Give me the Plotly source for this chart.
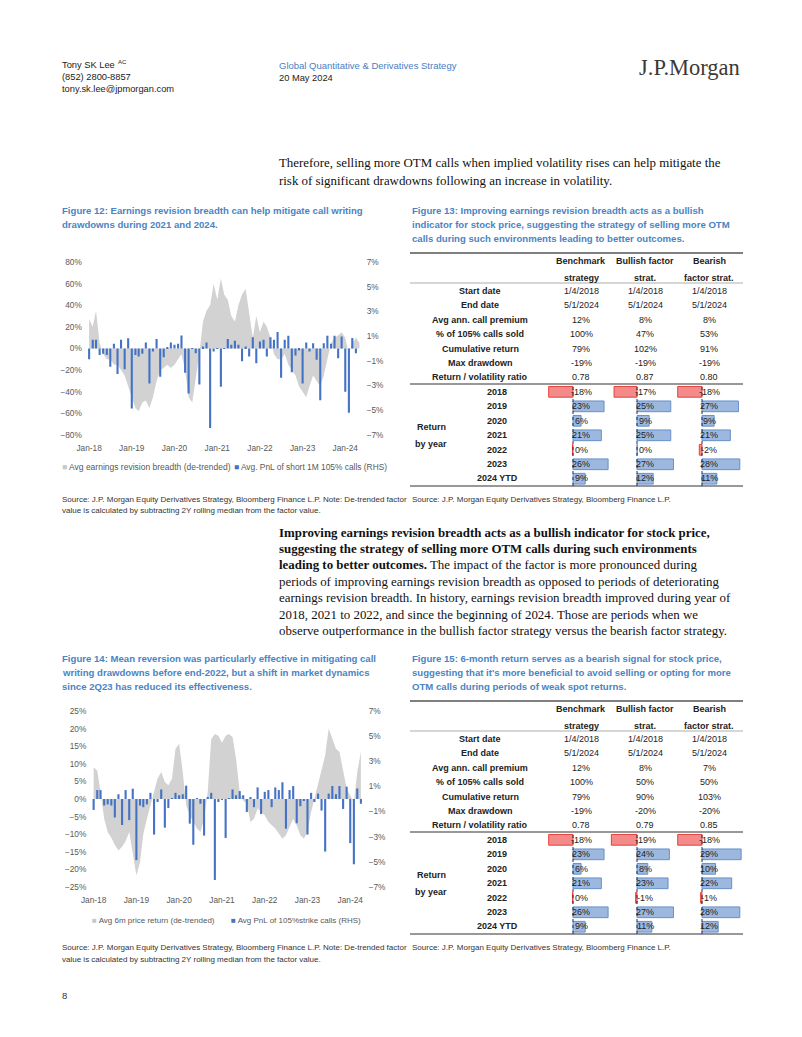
import plotly.graph_objects as go
import pandas as pd

W, H = 802, 1037


def px(x):
    return x / W


def py(y):
    return 1 - y / H


SANS = "Liberation Sans, Arial, sans-serif"
SERIF = "Liberation Serif, Times New Roman, serif"
BLUE_T = "#4a84c4"
GREY_T = "#595959"
TXT = "#222222"

# ---------------- data ----------------
# Figure 12: avg earnings revision breadth (de-trended), %, monthly Jan-18 .. May-24
breadth = [27, 20, 35, 5, -5, -10, -10, -15, -15, -20, -25, -35,
           -45, -55, -58, -50, -48, -55, -45, -30, -20, -18, -15, -18,
           -15, -10, -5, -20, -45, -50, -30, -5, 25, 35, 40, 60,
           45, 65, 50, 45, 30, 25, 40, 50, 55, 35, 10, 30,
           15, 25, 20, 10, -5, -10, -10, -5, -15, -20, -25, -35,
           -40, -45, -35, -25, -30, -35, -25, -10, 5, 10, 12, 15,
           10, -5, 5, 10, 5]
# Figure 14: avg 6m price return (de-trended), %, monthly Jan-18 .. Apr-24
price6m = [9, 8, 2, -5.6, -9.4, -11, -13, -14.6, -13.6, -12, -9.4, -15,
           -21.7, -18, -10, -5.6, -1.8, 2, 5.8, 7.7, 4.8, 3.9, 5.8, 14.3,
           15.7, 7.7, -1.8, -4.6, -6.5, -8.4, -9.4, -5.6, 2, 17, 18.5, 18,
           16, 18, 18.5, 17.6, 11.5, 2, -0.4, -1.3, -6.5, -5.6, -2.7, -3.7,
           -4.6, -6.5, -7.5, -8.4, -9.8, -11.3, -10.3, -8, -5.6, -7.5, -10.3, -11.3,
           -9.4, -3.7, 0, 3.9, 7.7, 12.4, 20, 17, 14.3, 13.4, 7.7, 3,
           1, -0.9, 7.7, 13.4]
# Avg PnL of short 1M 105% calls, % (RHS), monthly Jan-18 .. Apr-24
pnl = [-0.87, 0.71, 0.71, -0.52, -0.43, -0.52, -1.47, 0.38, -2.07, 0.71, -1.68, 0.82,
       -4.86, -0.52, -0.65, -0.43, 0.49, -2.83, -0.24, 0.76, -2.28, -0.71, 0.05, 0.49,
       0.30, 0.38, 1.06, -1.96, -3.64, 0.03, -0.38, -2.91, 0.16, 0.49, -6.44, -0.24,
       -0.03, -3.10, 0.03, 0.76, 0.30, 0.63, 0.30, -1.03, 0.16, -0.65, 0.92, -1.20,
       0.57, 0.71, -0.65, 0.92, 0.71, 1.33, -2.36, 0.71, 1.03, -1.93, -0.57, -0.16,
       -2.83, 0.49, -0.24, 0.43, -0.92, -4.18, 0.43, 1.03, 0.38, 1.03, -0.79, 0.98,
       -3.51, -5.19, 0.84, -0.38]

months_breadth = pd.date_range("2018-01-01", periods=len(breadth), freq="MS")
months_price = pd.date_range("2018-01-01", periods=len(price6m), freq="MS")
months_pnl = pd.date_range("2018-01-01", periods=len(pnl), freq="MS")

fig12_names = ["Avg earnings revision breadth (de-trended)", "Avg. PnL of short 1M 105% calls (RHS)"]
fig14_names = ["Avg 6m price return (de-trended)", "Avg PnL of 105%strike calls (RHS)"]

# Tables
col_head1 = ["Benchmark", "Bullish factor", "Bearish"]
col_head2 = ["strategy", "strat.", "factor strat."]
stat_labels = ["Start date", "End date", "Avg ann. call premium", "% of 105% calls sold",
               "Cumulative return", "Max drawdown", "Return / volatility ratio"]
years = ["2018", "2019", "2020", "2021", "2022", "2023", "2024 YTD"]

t13_stats = [
    ["1/4/2018", "5/1/2024", "12%", "100%", "79%", "-19%", "0.78"],
    ["1/4/2018", "5/1/2024", "8%", "47%", "102%", "-19%", "0.87"],
    ["1/4/2018", "5/1/2024", "8%", "53%", "91%", "-19%", "0.80"],
]
t13_years = [
    [-18, 23, 6, 21, -0.4, 26, 9],
    [-17, 25, 9, 25, 0.2, 27, 12],
    [-18, 27, 9, 21, -2, 28, 11],
]
t15_stats = [
    ["1/4/2018", "5/1/2024", "12%", "100%", "79%", "-19%", "0.78"],
    ["1/4/2018", "5/1/2024", "8%", "50%", "90%", "-20%", "0.79"],
    ["1/4/2018", "5/1/2024", "7%", "50%", "103%", "-20%", "0.85"],
]
t15_years = [
    [-18, 23, 6, 21, -0.4, 26, 9],
    [-19, 24, 8, 23, -1, 27, 11],
    [-18, 29, 10, 22, -1, 28, 12],
]

# ---------------- figure ----------------
fig = go.Figure()
AREA = "#d2d2d2"
BARC = "#4472c4"
BAR_W = 1.55e9  # ms

fig.add_trace(go.Scatter(x=months_breadth, y=breadth, mode="lines", fill="tozeroy",
                         line=dict(width=0, color=AREA), fillcolor=AREA, name=fig12_names[0],
                         xaxis="x", yaxis="y", showlegend=False, hoverinfo="skip"))
fig.add_trace(go.Bar(x=months_pnl, y=pnl, width=BAR_W, marker=dict(color=BARC, line=dict(width=0)),
                     name=fig12_names[1], xaxis="x", yaxis="y2", showlegend=False, hoverinfo="skip"))
fig.add_trace(go.Scatter(x=months_price, y=price6m, mode="lines", fill="tozeroy",
                         line=dict(width=0, color=AREA), fillcolor=AREA, name=fig14_names[0],
                         xaxis="x2", yaxis="y3", showlegend=False, hoverinfo="skip"))
fig.add_trace(go.Bar(x=months_pnl, y=pnl, width=BAR_W, marker=dict(color=BARC, line=dict(width=0)),
                     name=fig14_names[1], xaxis="x2", yaxis="y4", showlegend=False, hoverinfo="skip"))

tickfont = dict(family=SANS, size=8.3, color=GREY_T)
date_range = ["2017-12-01", "2024-05-06"]


def xdate(dom, anchor):
    return dict(domain=dom, anchor=anchor, type="date", range=date_range, tickformat="%b-%y",
                dtick="M12", tick0="2018-01-01", showgrid=False, zeroline=False, showline=False,
                ticks="outside", ticklen=5, tickcolor="rgba(0,0,0,0)", tickfont=tickfont,
                fixedrange=True, automargin=False)


def yleft(dom, anchor, rng, dt):
    return dict(domain=dom, anchor=anchor, range=rng, dtick=dt, ticksuffix="%", showgrid=False,
                zeroline=False, showline=False, tickfont=tickfont, fixedrange=True,
                ticks="outside", ticklen=1, tickcolor="rgba(0,0,0,0)", automargin=False)


def yright(over, anchor, tl):
    return dict(overlaying=over, anchor=anchor, side="right", range=[-7, 7], tick0=1, dtick=2,
                ticksuffix="%", showgrid=False, zeroline=False, showline=False,
                tickfont=tickfont, fixedrange=True, ticks="outside", ticklen=tl,
                tickcolor="rgba(0,0,0,0)", automargin=False)


layout_axes = dict(
    xaxis=xdate([px(85.5), px(360)], "y"),
    yaxis=yleft([py(435), py(262)], "x", [-80, 80], 20),
    yaxis2=yright("y", "x", 4),
    xaxis2=xdate([px(90), px(365)], "y3"),
    yaxis3=yleft([py(887), py(711)], "x2", [-25, 25], 5),
    yaxis4=yright("y3", "x2", 1),
)

annotations = []
shapes = []


def T(x, y, text, size=10, color=TXT, family=SANS, xanchor="left"):
    annotations.append(dict(x=px(x), y=py(y), xref="paper", yref="paper", text=text,
                            showarrow=False, xanchor=xanchor, yanchor="middle",
                            font=dict(size=size, color=color, family=family)))


def HL(y, x0, x1, color="#333333", width=1.0):
    shapes.append(dict(type="line", xref="paper", yref="paper", x0=px(x0), x1=px(x1),
                       y0=py(y), y1=py(y), line=dict(color=color, width=width)))


# ---------------- tables ----------------
RED_FILL, RED_LINE = "#f38b8b", "#e8403c"
BLUE_FILL, BLUE_LINE = "#9db8df", "#6790c9"
zero_px = [573, 637, 702]
col_cx = [581, 645, 709]
SCALE = 1.35  # px per %
TS = 9.0


def build_table(dy, stats, yrs, xax_ids, yax_id):
    HL(253 + dy, 410, 743, "#555555", 1.6)
    HL(283 + dy, 410, 743, "#9a9a9a", 0.8)
    HL(384 + dy, 410, 743, "#333333", 1.2)
    HL(486 + dy, 410, 743, "#333333", 1.2)
    for c in range(3):
        T(col_cx[c], 261 + dy, "<b>%s</b>" % col_head1[c], TS, TXT, SANS, "center")
        T(col_cx[c], 278 + dy, "<b>%s</b>" % col_head2[c], TS, TXT, SANS, "center")
    for r, lab in enumerate(stat_labels):
        yy = 291 + dy + r * 14.4
        T(480, yy, "<b>%s</b>" % lab, TS, TXT, SANS, "center")
        for c in range(3):
            T(col_cx[c], yy, stats[c][r], TS, TXT, SANS, "center")
    T(431, 427 + dy, "<b>Return</b>", TS, TXT, SANS, "center")
    T(431, 444 + dy, "<b>by year</b>", TS, TXT, SANS, "center")
    for r, yl in enumerate(years):
        yy = 392 + dy + r * 14.4
        T(497, yy, "<b>%s</b>" % yl, TS, TXT, SANS, "center")
        for c in range(3):
            T(col_cx[c], yy, "%d%%" % round(yrs[c][r]), TS, TXT, SANS, "center")
    ydom = [py(486 + dy), py(384.6 + dy)]
    layout_axes["yaxis%d" % yax_id] = dict(domain=ydom, type="category", categoryorder="array",
                                           categoryarray=years, autorange="reversed",
                                           visible=False, anchor="x%d" % xax_ids[0],
                                           fixedrange=True, automargin=False)
    for c in range(3):
        xid = xax_ids[c]
        z = zero_px[c]
        layout_axes["xaxis%d" % xid] = dict(domain=[px(z - 20 * SCALE), px(z + 30 * SCALE)],
                                            range=[-20, 30], visible=False,
                                            anchor="y%d" % yax_id, fixedrange=True,
                                            automargin=False)
        vals = yrs[c]
        fig.add_trace(go.Bar(x=vals, y=years, orientation="h", width=0.74,
                             marker=dict(color=[RED_FILL if v < 0 else BLUE_FILL for v in vals],
                                         line=dict(color=[RED_LINE if v < 0 else BLUE_LINE for v in vals],
                                                   width=1)),
                             xaxis="x%d" % xid, yaxis="y%d" % yax_id, showlegend=False,
                             hoverinfo="skip"))
        shapes.append(dict(type="line", xref="x%d" % xid, yref="y%d domain" % yax_id,
                           x0=0, x1=0, y0=0, y1=1, line=dict(color="#1f2d5a", width=1, dash="dot")))


build_table(0, t13_stats, t13_years, [3, 4, 5], 5)
build_table(448, t15_stats, t15_years, [6, 7, 8], 6)


# ---------------- legends (as text rows under each chart) ----------------
def legend_item(x, y, color, label, size):
    T(x, y, '<span style="color:%s">■</span> %s' % (color, label), size, GREY_T)


legend_item(60, 467, "#c8c8c8", fig12_names[0], 8.5)
legend_item(232, 467, BARC, fig12_names[1], 8.4)
legend_item(90, 920, "#c8c8c8", fig14_names[0], 8.0)
legend_item(229, 920, BARC, fig14_names[1], 8.0)

# ---------------- page text ----------------
HS = 9.3
T(60, 65.5, "Tony SK Lee", HS)
T(116, 62, "AC", 6)
T(60, 77, "(852) 2800-8857", HS)
T(60, 88.5, "tony.sk.lee@jpmorgan.com", HS)
T(277, 66, "Global Quantitative &amp; Derivatives Strategy", 9.5, "#4a7ebf")
T(277, 77.5, "20 May 2024", HS)
T(742, 67, "J.P.Morgan", 22.5, "#3d3935", SERIF, "right")

BS = 12.9
T(277, 163, "Therefore, selling more OTM calls when implied volatility rises can help mitigate the", BS, "#111111", SERIF)
T(277, 181, "risk of significant drawdowns following an increase in volatility.", BS, "#111111", SERIF)

FS = 9.6
T(60, 210, "<b>Figure 12: Earnings revision breadth can help mitigate call writing</b>", FS, BLUE_T)
T(60, 224.5, "<b>drawdowns during 2021 and 2024.</b>", FS, BLUE_T)
T(410, 210, "<b>Figure 13: Improving earnings revision breadth acts as a bullish</b>", FS, BLUE_T)
T(410, 224.5, "<b>indicator for stock price, suggesting the strategy of selling more OTM</b>", FS, BLUE_T)
T(410, 239, "<b>calls during such environments leading to better outcomes.</b>", FS, BLUE_T)

SS = 8.0
T(60, 499.5, "Source: J.P. Morgan Equity Derivatives Strategy, Bloomberg Finance L.P. Note: De-trended factor", SS, "#333333")
T(60, 511, "value is calculated by subtracting 2Y rolling median from the factor value.", SS, "#333333")
T(410, 499.5, "Source: J.P. Morgan Equity Derivatives Strategy, Bloomberg Finance L.P.", SS, "#333333")

body2 = [
    "<b>Improving earnings revision breadth acts as a bullish indicator for stock price,</b>",
    "<b>suggesting the strategy of selling more OTM calls during such environments</b>",
    "<b>leading to better outcomes.</b> The impact of the factor is more pronounced during",
    "periods of improving earnings revision breadth as opposed to periods of deteriorating",
    "earnings revision breadth. In history, earnings revision breadth improved during year of",
    "2018, 2021 to 2022, and since the beginning of 2024. Those are periods when we",
    "observe outperformance in the bullish factor strategy versus the bearish factor strategy.",
]
for i, line in enumerate(body2):
    T(277, 532.5 + i * 16.4, line, BS, "#111111", SERIF)

T(60, 658, "<b>Figure 14: Mean reversion was particularly effective in mitigating call</b>", FS, BLUE_T)
T(60, 672, "<b>writing drawdowns before end-2022, but a shift in market dynamics</b>", FS, BLUE_T)
T(60, 686, "<b>since 2Q23 has reduced its effectiveness.</b>", FS, BLUE_T)
T(410, 658, "<b>Figure 15: 6-month return serves as a bearish signal for stock price,</b>", FS, BLUE_T)
T(410, 672, "<b>suggesting that it's more beneficial to avoid selling or opting for more</b>", FS, BLUE_T)
T(410, 686.5, "<b>OTM calls during periods of weak spot returns.</b>", FS, BLUE_T)

T(60, 947.5, "Source: J.P. Morgan Equity Derivatives Strategy, Bloomberg Finance L.P. Note: De-trended factor", SS, "#333333")
T(60, 959, "value is calculated by subtracting 2Y rolling median from the factor value.", SS, "#333333")
T(410, 947.5, "Source: J.P. Morgan Equity Derivatives Strategy, Bloomberg Finance L.P.", SS, "#333333")

T(60, 995, "8", 9.5, "#333333")

fig.update_layout(
    width=W, height=H, autosize=False,
    margin=dict(l=0, r=0, t=0, b=0, pad=0, autoexpand=False),
    paper_bgcolor="white", plot_bgcolor="white", showlegend=False,
    annotations=annotations, shapes=shapes, barmode="overlay",
    **layout_axes,
)

fig.write_html("out.html", config={"displayModeBar": False},
               post_script="document.body.style.margin='0px';")
